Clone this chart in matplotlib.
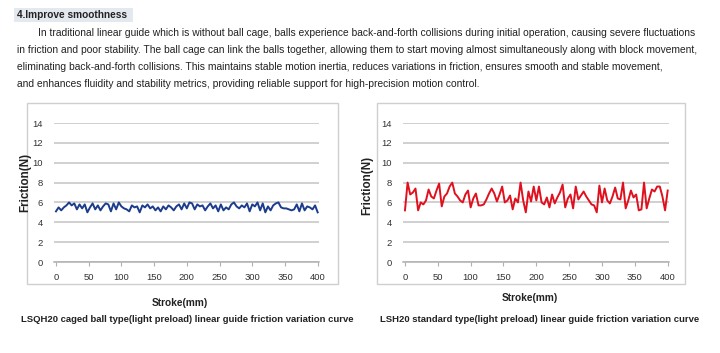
import matplotlib
matplotlib.use("Agg")
import matplotlib.pyplot as plt
from matplotlib.patches import Rectangle

W, H = 720, 353

# ---- data ----
stroke = list(range(0, 401, 4))
x_ticks = [0, 50, 100, 150, 200, 250, 300, 350, 400]
y_ticks = [0, 2, 4, 6, 8, 10, 12, 14]

friction_caged = [
    5.1, 5.5, 5.2, 5.5, 5.7, 6.0, 5.7, 5.9, 5.3, 5.8,
    5.4, 5.8, 5.0, 5.5, 5.9, 5.3, 5.7, 5.2, 5.6, 5.9,
    5.8, 5.1, 5.9, 5.3, 6.0, 5.6, 5.4, 5.3, 5.1, 5.7,
    5.5, 5.6, 5.0, 5.7, 5.5, 5.8, 5.4, 5.6, 5.2, 5.5,
    5.1, 5.6, 5.3, 5.7, 5.5, 5.2, 5.6, 5.8, 5.3, 5.9,
    5.4, 6.0, 5.9, 5.3, 5.8, 5.6, 5.7, 5.2, 5.6, 5.9,
    5.4, 5.7, 5.1, 5.8, 5.2, 5.5, 5.3, 5.8, 6.0, 5.6,
    5.4, 5.7, 5.5, 5.9, 5.1, 5.8, 5.6, 6.0, 5.2, 5.9,
    5.0, 5.6, 5.2, 5.7, 5.9, 6.0, 5.5, 5.4, 5.4, 5.3,
    5.2, 5.3, 5.8, 5.1, 5.9, 5.2, 5.6, 5.5, 5.3, 5.7,
    5.0,
]

friction_standard = [
    5.2, 8.0, 6.8, 7.0, 7.4, 5.2, 6.0, 5.8, 6.2, 7.3,
    6.6, 6.4, 7.2, 7.9, 5.6, 6.6, 6.9, 7.6, 8.0, 6.9,
    6.6, 6.2, 6.0, 6.8, 7.2, 5.5, 6.4, 6.9, 5.7, 5.7,
    5.8, 6.3, 6.9, 7.4, 6.9, 6.1, 6.8, 7.6, 6.0, 6.2,
    6.7, 5.3, 6.4, 6.0, 8.0, 6.2, 5.0, 7.1, 6.1, 7.6,
    6.2, 7.6, 6.0, 5.8, 6.5, 5.5, 6.8, 5.9, 6.5, 7.0,
    7.8, 5.5, 6.4, 6.8, 5.4, 7.6, 6.3, 6.7, 7.1, 6.6,
    6.2, 5.8, 5.7, 5.0, 7.7, 6.0, 7.4, 6.2, 5.9, 6.6,
    7.5, 6.4, 6.3, 8.0, 5.4, 6.2, 7.2, 6.5, 6.8, 5.2,
    5.3, 8.0, 5.4, 6.4, 7.3, 7.1, 7.6, 7.6, 6.6, 5.2,
    7.2,
]

header = "4.Improve smoothness"
body_lines = [
    "In traditional linear guide which is without ball cage, balls experience back-and-forth collisions during initial operation, causing severe fluctuations",
    "in friction and poor stability. The ball cage can link the balls together, allowing them to start moving almost simultaneously along with block movement,",
    "eliminating back-and-forth collisions. This maintains stable motion inertia, reduces variations in friction, ensures smooth and stable movement,",
    "and enhances fluidity and stability metrics, providing reliable support for high-precision motion control.",
]
y_label = "Friction(N)"
x_label = "Stroke(mm)"
captions = [
    "LSQH20 caged ball type(light preload) linear guide friction variation curve",
    "LSH20 standard type(light preload) linear guide friction variation curve",
]

plt.rcParams['font.family'] = ['Liberation Sans', 'DejaVu Sans']

fig = plt.figure(figsize=(W / 100, H / 100), dpi=100)
fig.patch.set_facecolor('white')


def fx(px):
    return px / W


def fy(py):
    return 1 - py / H


# header
fig.patches.append(Rectangle((fx(14), fy(22)), fx(119), 14 / H, transform=fig.transFigure,
                             facecolor='#e4e9ef', edgecolor='none', zorder=0))
fig.text(fx(17), fy(15), header, fontsize=7.3, fontweight='bold', color='#222222',
         ha='left', va='center')

body_y = [33, 50, 67, 84]
body_x = [38, 17, 17, 17]
for line, yy, xx in zip(body_lines, body_y, body_x):
    fig.text(fx(xx), fy(yy), line, fontsize=7.35, color='#222222', ha='left', va='center')

# chart frames
for (x0, x1) in [(27, 338), (377, 685)]:
    fig.patches.append(Rectangle((fx(x0), fy(284)), fx(x1 - x0), (284 - 103) / H,
                                 transform=fig.transFigure, facecolor='none',
                                 edgecolor='#cfcfcf', linewidth=1.0, zorder=0))

panels = [
    dict(left=54, right=319, data=friction_caged, color='#1c3c8c',
         ylab_x=25, ylab_y=182, xlab_x=180, xlab_y=303, cap_x=187),
    dict(left=403, right=669, data=friction_standard, color='#e0101e',
         ylab_x=367, ylab_y=185, xlab_x=530, xlab_y=298, cap_x=540),
]

for p, cap in zip(panels, captions):
    ax = fig.add_axes([fx(p['left']), fy(262), fx(p['right'] - p['left']), (262 - 123) / H])
    ax.set_zorder(2)
    ax.set_facecolor('none')
    ax.plot(stroke, p['data'], color=p['color'], linewidth=1.4, zorder=3)
    ax.set_xlim(-3, 402)
    ax.set_ylim(0, 14)
    ax.set_xticks(x_ticks)
    ax.set_yticks(y_ticks)
    ax.grid(axis='y', color='#c4c4c4', linewidth=1.1)
    ax.set_axisbelow(True)
    for s in ['top', 'right', 'left']:
        ax.spines[s].set_visible(False)
    ax.spines['bottom'].set_color('#b0b0b0')
    ax.spines['bottom'].set_linewidth(1.1)
    ax.tick_params(axis='y', length=0, pad=8, labelsize=6.8, labelcolor='#333333')
    ax.tick_params(axis='x', length=3, width=0.8, color='#b0b0b0', direction='out',
                   pad=5, labelsize=6.8, labelcolor='#333333')
    fig.text(fx(p['ylab_x']), fy(p['ylab_y']), y_label, rotation=90, fontsize=8.4,
             fontweight='bold', color='#222222', ha='center', va='center')
    fig.text(fx(p['xlab_x']), fy(p['xlab_y']), x_label, fontsize=7.3,
             fontweight='bold', color='#222222', ha='center', va='center')
    fig.text(fx(p['cap_x']), fy(320), cap, fontsize=6.8, fontweight='bold',
             color='#222222', ha='center', va='center')

fig.savefig('out.png', dpi=100, facecolor='white')
